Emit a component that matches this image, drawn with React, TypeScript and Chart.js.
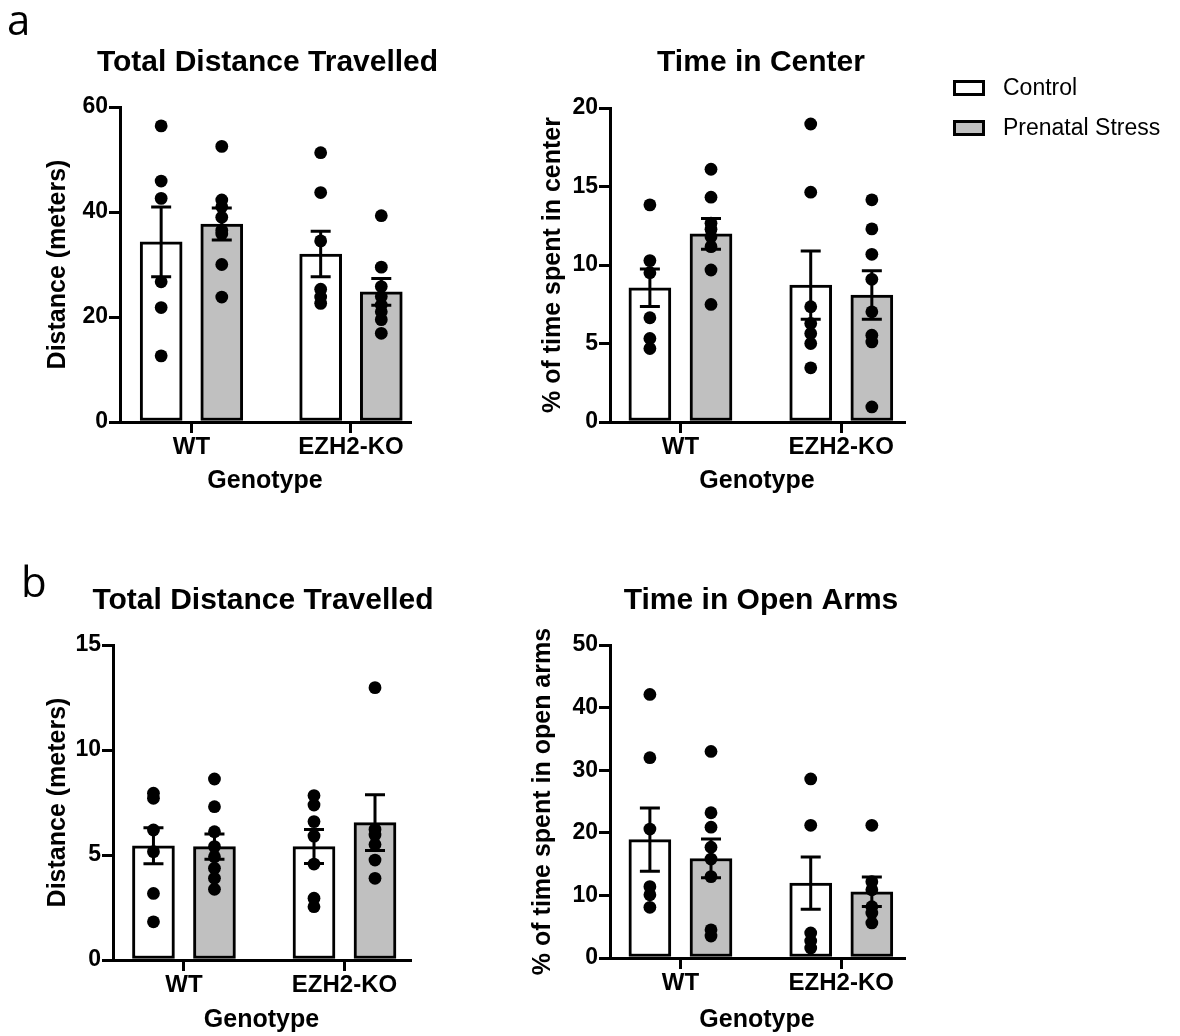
import React, { useEffect, useRef } from "react";
import { Chart, registerables } from "chart.js";

Chart.register(...registerables);

// ---------- data ----------
const genotypes = ["WT", "EZH2-KO"];
const groupNames = ["Control", "Prenatal Stress"];

// a: Open field - Total Distance Travelled (meters)
const ofDistCtrlMean = [34.3, 32.0];
const ofDistCtrlSem = [6.65, 4.35];
const ofDistPsMean = [37.7, 24.8];
const ofDistPsSem = [3.05, 2.55];
const ofDistCtrlWT = [56.4, 45.9, 42.6, 26.7, 21.8, 12.6];
const ofDistPsWT = [52.5, 42.3, 41.0, 39.0, 36.5, 35.8, 30.0, 23.8];
const ofDistCtrlKO = [51.3, 43.7, 34.5, 25.3, 23.8, 22.6];
const ofDistPsKO = [39.3, 29.5, 25.8, 23.9, 22.3, 21.0, 19.5, 16.9];

// a: Time in Center (%)
const centerCtrlMean = [8.55, 8.72];
const centerCtrlSem = [1.2, 2.17];
const centerPsMean = [11.98, 8.09];
const centerPsSem = [0.98, 1.55];
const centerCtrlWT = [13.83, 10.28, 9.51, 6.64, 5.32, 4.68];
const centerPsWT = [16.1, 14.32, 12.66, 12.28, 11.8, 11.17, 9.68, 7.49];
const centerCtrlKO = [18.98, 14.64, 7.34, 6.28, 5.64, 5.0, 3.45];
const centerPsKO = [14.15, 12.3, 10.68, 9.09, 7.02, 5.53, 5.1, 0.96];

// b: EPM - Total Distance Travelled (meters)
const epmDistCtrlMean = [5.44, 5.4];
const epmDistCtrlSem = [0.86, 0.81];
const epmDistPsMean = [5.4, 6.54];
const epmDistPsSem = [0.6, 1.33];
const epmDistCtrlWT = [7.94, 7.7, 6.19, 5.16, 3.17, 1.82];
const epmDistPsWT = [8.62, 7.3, 6.11, 5.4, 4.92, 4.37, 3.89, 3.37];
const epmDistCtrlKO = [7.83, 7.38, 6.59, 5.9, 4.57, 2.94, 2.54];
const epmDistPsKO = [12.97, 6.22, 5.95, 5.5, 4.76, 3.89];

// b: Time in Open Arms (%)
const openCtrlMean = [18.9, 11.97];
const openCtrlSem = [5.05, 4.17];
const openPsMean = [15.9, 10.59];
const openPsSem = [3.1, 2.35];
const openCtrlWT = [42.1, 32.0, 20.6, 11.4, 10.1, 8.1];
const openPsWT = [33.0, 23.2, 20.9, 17.7, 15.8, 13.0, 4.5, 3.5];
const openCtrlKO = [28.6, 21.2, 4.0, 2.7, 1.6];
const openPsKO = [21.2, 12.2, 10.9, 8.2, 7.2, 5.6];

// ---------- styling ----------
const FONT = "'Liberation Sans', Arial, Helvetica, sans-serif";
const CTRL_FILL = "#ffffff";
const PS_FILL = "#c0c0c0";
const BAR_OFFSET = 0.19;

const errorBarPlugin = {
  id: "errorBars",
  afterDatasetsDraw(chart: any) {
    const ctx = chart.ctx;
    const yScale = chart.scales.y;
    chart.data.datasets.forEach((ds: any, di: number) => {
      if (!ds.sem) return;
      const meta = chart.getDatasetMeta(di);
      meta.data.forEach((bar: any, i: number) => {
        const m = ds.data[i].y;
        const s = ds.sem[i];
        const yTop = yScale.getPixelForValue(m + s);
        const yBot = yScale.getPixelForValue(m - s);
        const x = bar.x;
        ctx.save();
        ctx.strokeStyle = "#000";
        ctx.lineWidth = 3;
        ctx.beginPath();
        ctx.moveTo(x, yTop);
        ctx.lineTo(x, yBot);
        ctx.moveTo(x - 10, yTop);
        ctx.lineTo(x + 10, yTop);
        ctx.moveTo(x - 10, yBot);
        ctx.lineTo(x + 10, yBot);
        ctx.stroke();
        ctx.restore();
      });
    });
  },
};

type PanelCfg = {
  title: string;
  yTitle: string;
  yMax: number;
  yStep: number;
  ctrlMean: number[];
  ctrlSem: number[];
  psMean: number[];
  psSem: number[];
  ctrlPts: number[][];
  psPts: number[][];
  left: number;
  top: number;
  width: number;
  height: number;
  rightGap: number;
  yAxisWidth: number;
  xAxisHeight: number;
  xMin: number;
  xMax: number;
  titlePadTop: number;
  titlePadBottom: number;
  yTitlePad: number;
  xTitlePad: number;
};

const panels: PanelCfg[] = [
  {
    title: "Total Distance Travelled",
    yTitle: "Distance (meters)",
    yMax: 60,
    yStep: 20,
    ctrlMean: ofDistCtrlMean,
    ctrlSem: ofDistCtrlSem,
    psMean: ofDistPsMean,
    psSem: ofDistPsSem,
    ctrlPts: [ofDistCtrlWT, ofDistCtrlKO],
    psPts: [ofDistPsWT, ofDistPsKO],
    left: 0, top: 30, width: 535, height: 490,
    rightGap: 125, yAxisWidth: 120, xAxisHeight: 98,
    xMin: 0.552, xMax: 2.37,
    titlePadTop: 15, titlePadBottom: 26, yTitlePad: 43, xTitlePad: 24,
  },
  {
    title: "Time in Center",
    yTitle: "% of time spent in center",
    yMax: 20,
    yStep: 5,
    ctrlMean: centerCtrlMean,
    ctrlSem: centerCtrlSem,
    psMean: centerPsMean,
    psSem: centerPsSem,
    ctrlPts: [centerCtrlWT, centerCtrlKO],
    psPts: [centerPsWT, centerPsKO],
    left: 500, top: 30, width: 522, height: 490,
    rightGap: 118, yAxisWidth: 110, xAxisHeight: 98,
    xMin: 0.562, xMax: 2.39,
    titlePadTop: 15, titlePadBottom: 27, yTitlePad: 38, xTitlePad: 24,
  },
  {
    title: "Total Distance Travelled",
    yTitle: "Distance (meters)",
    yMax: 15,
    yStep: 5,
    ctrlMean: epmDistCtrlMean,
    ctrlSem: epmDistCtrlSem,
    psMean: epmDistPsMean,
    psSem: epmDistPsSem,
    ctrlPts: [epmDistCtrlWT, epmDistCtrlKO],
    psPts: [epmDistPsWT, epmDistPsKO],
    left: 0, top: 560, width: 526, height: 476,
    rightGap: 116, yAxisWidth: 113, xAxisHeight: 76,
    xMin: 0.558, xMax: 2.408,
    titlePadTop: 23, titlePadBottom: 26, yTitlePad: 43, xTitlePad: 1,
  },
  {
    title: "Time in Open Arms",
    yTitle: "% of time spent in open arms",
    yMax: 50,
    yStep: 10,
    ctrlMean: openCtrlMean,
    ctrlSem: openCtrlSem,
    psMean: openPsMean,
    psSem: openPsSem,
    ctrlPts: [openCtrlWT, openCtrlKO],
    psPts: [openPsWT, openPsKO],
    left: 500, top: 560, width: 522, height: 476,
    rightGap: 118, yAxisWidth: 110, xAxisHeight: 78,
    xMin: 0.562, xMax: 2.39,
    titlePadTop: 23, titlePadBottom: 26, yTitlePad: 28, xTitlePad: 1,
  },
];

function buildConfig(p: PanelCfg): any {
  const barData = (means: number[], off: number) =>
    means.map((m, i) => ({ x: i + 1 + off, y: m }));
  const dotData: { x: number; y: number }[] = [];
  p.ctrlPts.forEach((arr, g) => arr.forEach((v) => dotData.push({ x: g + 1 - BAR_OFFSET, y: v })));
  p.psPts.forEach((arr, g) => arr.forEach((v) => dotData.push({ x: g + 1 + BAR_OFFSET, y: v })));

  const yTickFont = { family: FONT, size: 23, weight: "bold" as const };
  const xTickFont = { family: FONT, size: 24, weight: "bold" as const, lineHeight: 1.2 };
  const axisTitleFont = { family: FONT, size: 25, weight: "bold" as const, lineHeight: 1.2 };
  const gridCommon = {
    display: true,
    drawOnChartArea: false,
    drawTicks: true,
    tickLength: 11,
    tickWidth: 3,
    tickColor: "#000",
    lineWidth: 3,
    color: "#000",
    offset: false,
  };

  return {
    type: "bar",
    data: {
      datasets: [
        {
          type: "scatter",
          label: "points",
          data: dotData,
          order: 1,
          pointRadius: 6.4,
          pointBackgroundColor: "#000",
          pointBorderWidth: 0,
          pointHoverRadius: 6.4,
          clip: false,
        },
        {
          type: "bar",
          label: groupNames[0],
          data: barData(p.ctrlMean, -BAR_OFFSET),
          sem: p.ctrlSem,
          backgroundColor: CTRL_FILL,
          borderColor: "#000",
          borderWidth: 3,
          borderSkipped: false,
          barThickness: 42,
          grouped: false,
          order: 2,
        },
        {
          type: "bar",
          label: groupNames[1],
          data: barData(p.psMean, BAR_OFFSET),
          sem: p.psSem,
          backgroundColor: PS_FILL,
          borderColor: "#000",
          borderWidth: 3,
          borderSkipped: false,
          barThickness: 42,
          grouped: false,
          order: 2,
        },
      ],
    },
    options: {
      animation: false,
      responsive: false,
      maintainAspectRatio: false,
      events: [],
      layout: { padding: { left: 0, right: 0, top: 0, bottom: 0 } },
      plugins: {
        legend: { display: false },
        tooltip: { enabled: false },
        title: {
          display: true,
          text: p.title,
          color: "#000",
          font: { family: FONT, size: 30, weight: "bold", lineHeight: 1.2 },
          padding: { top: p.titlePadTop, bottom: p.titlePadBottom },
        },
      },
      scales: {
        x: {
          type: "linear",
          min: p.xMin,
          max: p.xMax,
          offset: false,
          afterBuildTicks: (s: any) => {
            s.ticks = genotypes.map((_, i) => ({ value: i + 1 }));
          },
          afterFit: (s: any) => {
            s.height = p.xAxisHeight;
          },
          ticks: {
            callback: (v: number) => genotypes[Math.round(v) - 1],
            font: xTickFont,
            color: "#000",
            padding: 0,
            autoSkip: false,
            maxRotation: 0,
          },
          grid: gridCommon,
          border: { display: true, width: 3, color: "#000" },
          title: {
            display: true,
            text: "Genotype",
            color: "#000",
            font: axisTitleFont,
            padding: { top: 0, bottom: p.xTitlePad },
          },
        },
        y: {
          type: "linear",
          min: 0,
          max: p.yMax,
          afterFit: (s: any) => {
            s.width = p.yAxisWidth;
          },
          ticks: {
            stepSize: p.yStep,
            font: yTickFont,
            color: "#000",
            padding: 1,
          },
          grid: gridCommon,
          border: { display: true, width: 3, color: "#000" },
          title: {
            display: true,
            text: p.yTitle,
            color: "#000",
            font: axisTitleFont,
            padding: { top: p.yTitlePad, bottom: 0 },
          },
        },
        // invisible spacer on the right so the title centres like the original
        spacer: {
          type: "linear",
          position: "right",
          display: true,
          afterFit: (s: any) => {
            s.width = p.rightGap;
          },
          ticks: { display: false },
          grid: { display: false, drawTicks: false },
          border: { display: false },
        },
      },
    },
    plugins: [errorBarPlugin],
  };
}

function Panel({ cfg }: { cfg: PanelCfg }) {
  const ref = useRef<HTMLCanvasElement | null>(null);
  useEffect(() => {
    if (!ref.current) return;
    const chart = new Chart(ref.current, buildConfig(cfg));
    return () => chart.destroy();
  }, [cfg]);
  return (
    <canvas
      ref={ref}
      width={cfg.width}
      height={cfg.height}
      style={{
        position: "absolute",
        left: cfg.left,
        top: cfg.top,
        width: cfg.width,
        height: cfg.height,
      }}
    />
  );
}

const legendBox = (fill: string, top: number): React.CSSProperties => ({
  position: "absolute",
  left: 953,
  top,
  width: 32,
  height: 16,
  boxSizing: "border-box",
  border: "3px solid #000",
  background: fill,
});

const legendText = (top: number): React.CSSProperties => ({
  position: "absolute",
  left: 1003,
  top,
  fontFamily: FONT,
  fontSize: 23,
  lineHeight: "28px",
  color: "#000",
  whiteSpace: "nowrap",
});

const panelLetter = (left: number, top: number): React.CSSProperties => ({
  position: "absolute",
  left,
  top,
  fontFamily: "'Open Sans', 'DejaVu Sans', sans-serif",
  fontSize: 42,
  lineHeight: "42px",
  color: "#000",
});

export default function App() {
  return (
    <div
      style={{
        position: "absolute",
        left: 0,
        top: 0,
        width: 1180,
        height: 1036,
        overflow: "hidden",
        background: "#fff",
      }}
    >
      {panels.map((p, i) => (
        <Panel key={i} cfg={p} />
      ))}
      <div style={panelLetter(7, -2)}>a</div>
      <div style={panelLetter(21, 560)}>b</div>
      <div style={legendBox(CTRL_FILL, 80)} />
      <div style={legendText(73)}>{groupNames[0]}</div>
      <div style={legendBox(PS_FILL, 120)} />
      <div style={legendText(113)}>{groupNames[1]}</div>
    </div>
  );
}
